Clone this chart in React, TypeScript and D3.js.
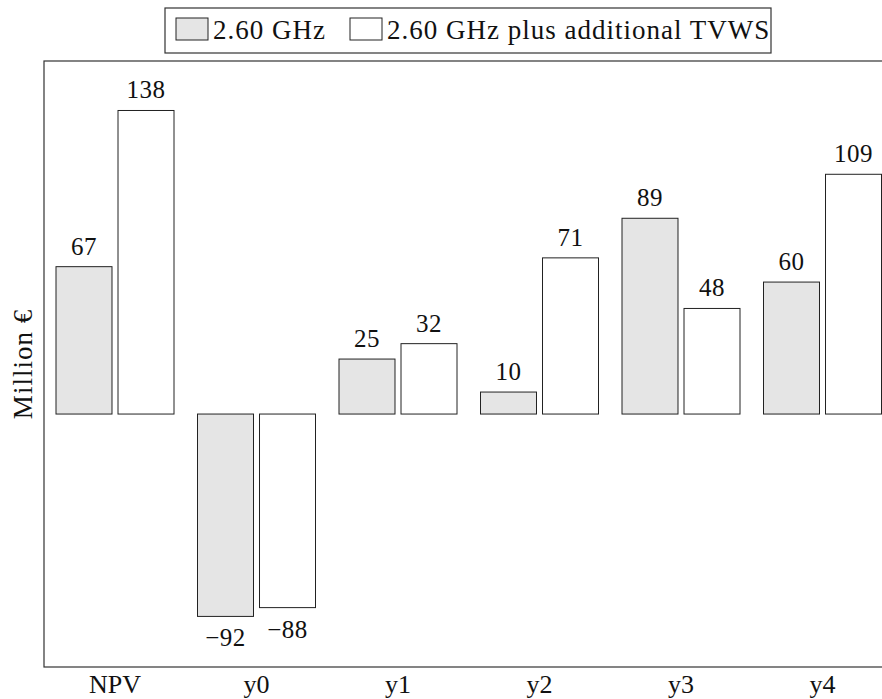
import React, { useEffect, useRef } from 'react';
import * as d3 from 'd3';

// categories and series values
const CATEGORIES = ['NPV', 'y0', 'y1', 'y2', 'y3', 'y4'];
const SERIES = ['2.60 GHz', '2.60 GHz plus additional TVWS'];
const BASE_VALUES = [67, -92, 25, 10, 89, 60];
const TVWS_VALUES = [138, -88, 32, 71, 48, 109];
const SERIES_FILLS = ['#e5e5e5', '#ffffff'];
const Y_DOMAIN = [-115, 160.5];

const WIDTH = 882;
const HEIGHT = 699;

const App: React.FC = () => {
  const svgRef = useRef<SVGSVGElement>(null);

  useEffect(() => {
    document.body.style.margin = '0';
    if (!svgRef.current) return;

    const svg = d3.select(svgRef.current);
    svg.selectAll('*').remove();

    const font = '"Liberation Serif", "Times New Roman", serif';
    const plot = { left: 44, top: 61, bottom: 667, right: 893 };

    // Frame (right edge runs off the page)
    svg.append('rect')
      .attr('x', plot.left)
      .attr('y', plot.top)
      .attr('width', plot.right + 20 - plot.left)
      .attr('height', plot.bottom - plot.top)
      .attr('fill', 'none')
      .attr('stroke', '#333')
      .attr('stroke-width', 1.2);

    const x0 = d3.scaleBand<string>()
      .domain(CATEGORIES)
      .range([plot.left + 0.25, plot.left + 0.25 + 141.5 * CATEGORIES.length])
      .padding(0);

    const x1 = d3.scaleBand<string>()
      .domain(SERIES)
      .range([-59, 59])
      .paddingInner(0.097)
      .paddingOuter(0);

    const y = d3.scaleLinear().domain(Y_DOMAIN).range([plot.bottom, plot.top]);

    const rows = CATEGORIES.map((c, i) => ({
      category: c,
      values: [BASE_VALUES[i], TVWS_VALUES[i]],
    }));

    const groups = svg.selectAll('.group')
      .data(rows)
      .enter()
      .append('g')
      .attr('class', 'group')
      .attr('transform', (d) => `translate(${x0(d.category)! + x0.bandwidth() / 2},0)`);

    groups.each(function (row) {
      const g = d3.select(this);
      row.values.forEach((v, si) => {
        const bx = x1(SERIES[si])!;
        const top = y(Math.max(0, v));
        const bottom = y(Math.min(0, v));
        g.append('rect')
          .attr('x', bx)
          .attr('y', top)
          .attr('width', x1.bandwidth())
          .attr('height', bottom - top)
          .attr('fill', SERIES_FILLS[si])
          .attr('stroke', '#222')
          .attr('stroke-width', 1);

        // value label above (or below for negatives)
        g.append('text')
          .attr('x', bx + x1.bandwidth() / 2)
          .attr('y', v >= 0 ? top - 12 : bottom + 30)
          .attr('text-anchor', 'middle')
          .attr('font-family', font)
          .attr('font-size', 25)
          .attr('letter-spacing', 0.5)
          .attr('fill', '#111')
          .text(v < 0 ? `\u2212${Math.abs(v)}` : `${v}`);
      });
    });

    // x tick labels
    svg.append('g')
      .selectAll('text')
      .data(CATEGORIES)
      .enter()
      .append('text')
      .attr('x', (d) => x0(d)! + x0.bandwidth() / 2)
      .attr('y', 693)
      .attr('text-anchor', 'middle')
      .attr('font-family', font)
      .attr('font-size', 26)
      .attr('fill', '#111')
      .text((d) => d);

    // y axis title
    svg.append('text')
      .attr('transform', `translate(32,${(plot.top + plot.bottom) / 2}) rotate(-90)`)
      .attr('text-anchor', 'middle')
      .attr('font-family', font)
      .attr('font-size', 27)
      .attr('letter-spacing', 1)
      .attr('fill', '#111')
      .text('Million \u20ac');

    // legend
    const legend = svg.append('g');
    legend.append('rect')
      .attr('x', 165)
      .attr('y', 8)
      .attr('width', 606)
      .attr('height', 45)
      .attr('fill', '#fff')
      .attr('stroke', '#333')
      .attr('stroke-width', 1.2);

    const legendX = [176, 350];
    SERIES.forEach((s, i) => {
      legend.append('rect')
        .attr('x', legendX[i])
        .attr('y', 18)
        .attr('width', 32)
        .attr('height', 22)
        .attr('fill', SERIES_FILLS[i])
        .attr('stroke', '#222')
        .attr('stroke-width', 1);
      legend.append('text')
        .attr('x', legendX[i] + 37)
        .attr('y', 39)
        .attr('font-family', font)
        .attr('font-size', 27)
        .attr('letter-spacing', 1)
        .attr('fill', '#111')
        .text(s);
    });
  }, []);

  return (
    <svg
      ref={svgRef}
      width={WIDTH}
      height={HEIGHT}
      style={{ display: 'block', background: '#fff' }}
    />
  );
};

export default App;
